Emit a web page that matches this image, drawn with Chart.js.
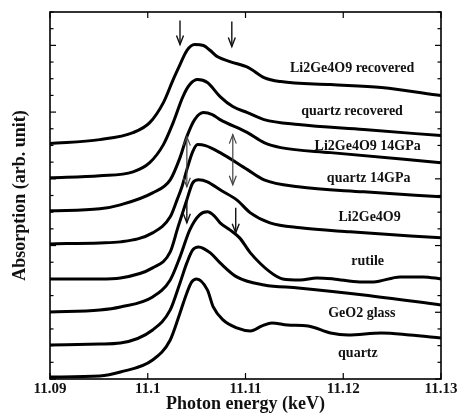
<!DOCTYPE html>
<html><head><meta charset="utf-8">
<script src="https://cdn.jsdelivr.net/npm/chart.js@4.4.1/dist/chart.umd.min.js"></script>
<style>html,body{margin:0;padding:0;background:#fff;}canvas{display:block;}</style>
</head><body>
<canvas id="c" width="462" height="416"></canvas>
<script>
// ---- data (photon energy in keV, absorption in arb. units, curves stacked) ----
const xTicks = [11.09, 11.10, 11.11, 11.12, 11.13];
const xTickLabels = ['11.09', '11.1', '11.11', '11.12', '11.13'];
const yTicks = [0,1,2,3,4,5,6,7,8,9,10,11,12,13,14,15,16,17,18,19,20,21,22];
const names = ['Li2Ge4O9 recovered', 'quartz recovered', 'Li2Ge4O9 14GPa', 'quartz 14GPa',
               'Li2Ge4O9', 'rutile', 'GeO2 glass', 'quartz'];

const eLiRec = [11.0900, 11.0951, 11.0985, 11.1002, 11.1016, 11.1026, 11.1033, 11.1040, 11.1048, 11.1057, 11.1064, 11.1071, 11.1084, 11.1103, 11.1119, 11.1136, 11.1187, 11.1239, 11.1300];
const aLiRec = [14.11, 14.35, 14.77, 15.37, 16.57, 17.95, 18.85, 19.69, 20.05, 19.99, 19.69, 19.33, 19.03, 18.67, 18.07, 17.83, 17.65, 17.47, 16.99];

const eQzRec = [11.0900, 11.0951, 11.0985, 11.1002, 11.1016, 11.1026, 11.1036, 11.1043, 11.1051, 11.1061, 11.1074, 11.1087, 11.1102, 11.1119, 11.1154, 11.1221, 11.1300];
const aQzRec = [12.06, 12.18, 12.42, 12.97, 14.05, 15.37, 16.93, 17.65, 17.95, 17.77, 16.93, 16.33, 15.97, 15.55, 15.25, 14.95, 14.59];

const eLi14 = [11.0900, 11.0951, 11.0972, 11.1005, 11.1023, 11.1033, 11.1040, 11.1048, 11.1057, 11.1066, 11.1074, 11.1102, 11.1119, 11.1136, 11.1187, 11.1300];
const aLi14 = [10.08, 10.20, 10.44, 11.16, 11.94, 13.27, 14.53, 15.55, 15.97, 15.85, 15.55, 14.77, 14.17, 13.87, 13.57, 12.97];

const eQz14 = [11.0900, 11.0951, 11.0972, 11.1005, 11.1023, 11.1030, 11.1035, 11.1040, 11.1046, 11.1051, 11.1059, 11.1074, 11.1102, 11.1119, 11.1154, 11.1221, 11.1300];
const aQz14 = [8.10, 8.16, 8.22, 8.76, 9.72, 10.74, 11.52, 12.55, 13.63, 14.05, 13.99, 13.57, 12.55, 11.94, 11.52, 11.22, 10.92];

const eLi = [11.0900, 11.0951, 11.0972, 11.1005, 11.1023, 11.1031, 11.1040, 11.1046, 11.1052, 11.1061, 11.1074, 11.1091, 11.1105, 11.1125, 11.1156, 11.1207, 11.1300];
const aLi = [6.00, 6.00, 6.06, 6.66, 7.62, 9.12, 10.74, 11.76, 11.94, 11.82, 11.34, 10.74, 9.96, 9.36, 9.06, 8.82, 8.46];

const eRut = [11.0900, 11.0951, 11.0972, 11.1005, 11.1023, 11.1033, 11.1043, 11.1053, 11.1061, 11.1068, 11.1074, 11.1084, 11.1094, 11.1105, 11.1125, 11.1138, 11.1156, 11.1173, 11.1190, 11.1217, 11.1231, 11.1258, 11.1282, 11.1300];
const aRut = [4.02, 4.14, 4.32, 4.92, 5.94, 7.32, 8.94, 9.84, 10.02, 9.78, 9.36, 8.94, 8.46, 7.56, 6.42, 6.00, 5.94, 6.06, 6.00, 5.82, 5.82, 6.12, 6.12, 6.00];

const eGlass = [11.0900, 11.0951, 11.0972, 11.1005, 11.1023, 11.1033, 11.1040, 11.1046, 11.1052, 11.1064, 11.1074, 11.1091, 11.1119, 11.1154, 11.1221, 11.1300];
const aGlass = [2.04, 2.10, 2.16, 2.94, 4.14, 5.76, 6.96, 7.74, 7.92, 7.56, 6.96, 6.12, 5.64, 5.46, 5.04, 4.44];

const eQz = [11.0900, 11.0951, 11.0972, 11.1005, 11.1023, 11.1033, 11.1040, 11.1045, 11.1050, 11.1061, 11.1067, 11.1077, 11.1091, 11.1105, 11.1117, 11.1127, 11.1143, 11.1164, 11.1187, 11.1205, 11.1239, 11.1268, 11.1300];
const aQz = [0.12, 0.18, 0.42, 1.14, 2.34, 3.96, 5.16, 5.82, 6.00, 5.34, 4.32, 3.54, 3.06, 2.88, 3.18, 3.36, 3.24, 3.18, 2.76, 2.64, 2.76, 2.64, 2.46];

// annotation arrows: [energy, upper end, lower end]
const downArrows = [[11.1033, 21.49, 20.05], [11.1086, 21.43, 19.93], [11.1040, 10.86, 9.36], [11.1090, 10.26, 8.76]];
const doubleArrows = [[11.1040, 14.53, 11.52], [11.1087, 14.65, 11.64]];
// curve name label anchors (energy, absorption)
const labelE = [11.1209, 11.1209, 11.1225, 11.1226, 11.1227, 11.1225, 11.1219, 11.1215];
const labelA = [18.61, 16.04, 13.94, 12.05, 9.66, 7.08, 3.96, 1.56];

const series = [[eLiRec, aLiRec], [eQzRec, aQzRec], [eLi14, aLi14], [eQz14, aQz14],
                [eLi, aLi], [eRut, aRut], [eGlass, aGlass], [eQz, aQz]];

const SERIF = "'Liberation Serif', 'Times New Roman', serif";

const deco = {
  id: 'deco',
  afterDatasetsDraw(chart) {
    const {ctx, chartArea: a, scales: {x, y}} = chart;
    const line = (x1, y1, x2, y2) => { ctx.beginPath(); ctx.moveTo(x1, y1); ctx.lineTo(x2, y2); ctx.stroke(); };
    ctx.save();
    ctx.strokeStyle = '#000';
    ctx.lineCap = 'butt';
    // frame
    ctx.lineWidth = 1.6;
    ctx.strokeRect(a.left, a.top, a.right - a.left, a.bottom - a.top);
    // inward ticks
    ctx.lineWidth = 1.2;
    y.ticks.forEach(t => {
      const p = y.getPixelForValue(t.value);
      const L = (t.value % 4 === 0) ? 6 : 3.5;
      line(a.left, p, a.left + L, p);
      line(a.right, p, a.right - L, p);
    });
    x.ticks.forEach(t => {
      const p = x.getPixelForValue(t.value);
      line(p, a.bottom, p, a.bottom - 6);
      line(p, a.top, p, a.top + 6);
    });
    // arrows
    const head = (px, py, dir) => {
      ctx.beginPath();
      ctx.moveTo(px - 3.5, py - dir * 9);
      ctx.lineTo(px, py);
      ctx.lineTo(px + 3.5, py - dir * 9);
      ctx.stroke();
    };
    ctx.strokeStyle = '#111';
    ctx.lineWidth = 1.4;
    downArrows.forEach(([e, y1, y2]) => {
      const px = x.getPixelForValue(e), p1 = y.getPixelForValue(y1), p2 = y.getPixelForValue(y2);
      line(px, p1, px, p2);
      head(px, p2, 1);
    });
    ctx.strokeStyle = '#444';
    ctx.lineWidth = 1.2;
    doubleArrows.forEach(([e, y1, y2]) => {
      const px = x.getPixelForValue(e), p1 = y.getPixelForValue(y1), p2 = y.getPixelForValue(y2);
      line(px, p1, px, p2);
      head(px, p2, 1);
      head(px, p1, -1);
    });
    // curve labels
    ctx.fillStyle = '#111';
    ctx.font = 'bold 14px ' + SERIF;
    ctx.textAlign = 'center';
    ctx.textBaseline = 'middle';
    names.forEach((n, i) => {
      ctx.fillText(n, x.getPixelForValue(labelE[i]), y.getPixelForValue(labelA[i]));
    });
    ctx.restore();
  }
};

new Chart(document.getElementById('c'), {
  type: 'line',
  data: {
    datasets: series.map(([e, a], i) => ({
      label: names[i],
      data: e.map((v, j) => ({x: v, y: a[j]})),
      borderColor: '#000',
      borderWidth: 3,
      pointRadius: 0,
      cubicInterpolationMode: 'monotone',
      fill: false
    }))
  },
  options: {
    responsive: false,
    animation: false,
    layout: {padding: {top: 12, right: 21, left: 0, bottom: 0}},
    plugins: {legend: {display: false}, tooltip: {enabled: false}},
    scales: {
      x: {
        type: 'linear', min: 11.09, max: 11.13,
        afterBuildTicks: s => { s.ticks = xTicks.map(v => ({value: v})); },
        ticks: {
          callback: (v, i) => xTickLabels[i],
          font: {family: SERIF, size: 15, weight: 'bold'}, color: '#111',
          padding: 1, maxRotation: 0, autoSkip: false
        },
        grid: {display: false, drawTicks: false}, border: {display: false},
        title: {display: true, text: 'Photon energy (keV)', color: '#111',
                font: {family: SERIF, size: 18, weight: 'bold'}, padding: {top: 0, bottom: 1}},
        afterFit: s => { s.height = 37; s.paddingLeft = 0; s.paddingRight = 0; }
      },
      y: {
        type: 'linear', min: 0, max: 22,
        afterBuildTicks: s => { s.ticks = yTicks.map(v => ({value: v})); },
        ticks: {display: false},
        grid: {display: false, drawTicks: false}, border: {display: false},
        title: {display: true, text: 'Absorption (arb. unit)', color: '#111',
                font: {family: SERIF, size: 18, weight: 'bold'}, padding: {top: 10, bottom: 0}},
        afterFit: s => { s.width = 50; s.paddingTop = 0; s.paddingBottom = 0; }
      }
    }
  },
  plugins: [deco]
});
</script>
</body></html>
